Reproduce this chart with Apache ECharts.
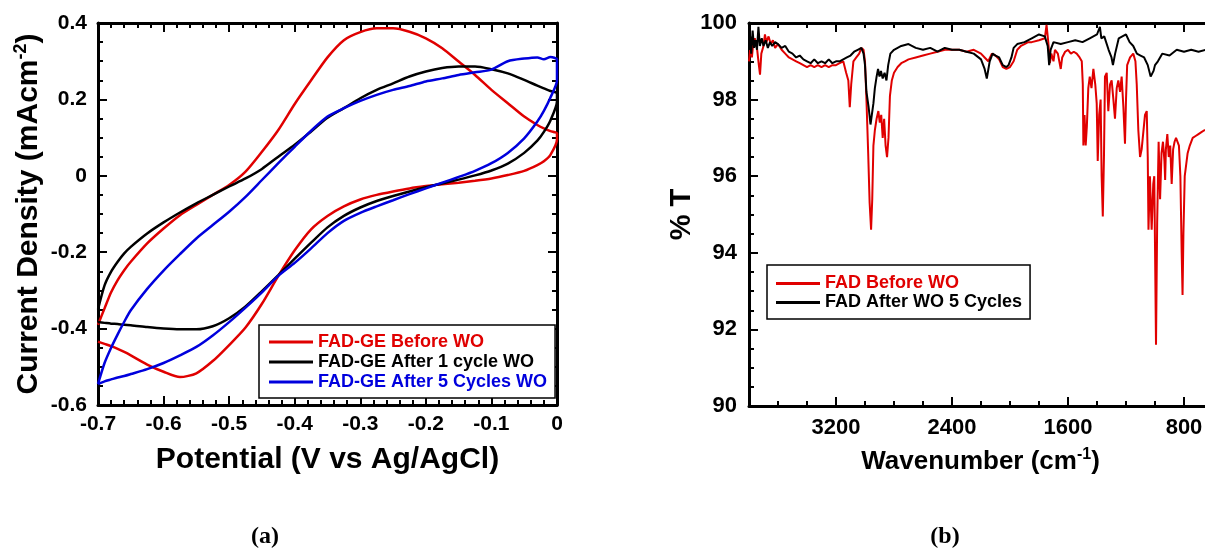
<!DOCTYPE html>
<html><head><meta charset="utf-8">
<script src="https://cdn.jsdelivr.net/npm/echarts@6/dist/echarts.min.js"></script>
<style>html,body{margin:0;padding:0;background:#fff}#c{width:1205px;height:548px}</style>
</head><body><div id="c"></div><script>
// ---------- Panel (a): cyclic voltammograms ----------
const potentials = [-0.7,-0.69,-0.68,-0.67,-0.66,-0.65,-0.625,-0.6,-0.575,-0.55,-0.525,-0.5,-0.475,-0.45,-0.425,-0.4,-0.375,-0.35,-0.325,-0.3,-0.275,-0.25,-0.225,-0.2,-0.175,-0.15,-0.125,-0.1,-0.075,-0.05,-0.03,-0.02,-0.01,0];
const redAnodic = [-0.39,-0.347,-0.305,-0.273,-0.247,-0.225,-0.177,-0.138,-0.103,-0.076,-0.05,-0.024,0.011,0.063,0.12,0.188,0.25,0.31,0.355,0.376,0.386,0.386,0.377,0.36,0.334,0.299,0.264,0.225,0.19,0.155,0.133,0.124,0.117,0.111];
const redCathodic = [-0.434,-0.44,-0.446,-0.453,-0.461,-0.47,-0.494,-0.513,-0.527,-0.517,-0.485,-0.443,-0.397,-0.335,-0.262,-0.195,-0.14,-0.105,-0.08,-0.062,-0.05,-0.041,-0.033,-0.027,-0.022,-0.018,-0.013,-0.007,0.002,0.013,0.028,0.038,0.055,0.095];
const blackAnodic = [-0.35,-0.287,-0.251,-0.225,-0.203,-0.186,-0.151,-0.122,-0.096,-0.072,-0.05,-0.028,-0.007,0.018,0.05,0.081,0.116,0.152,0.177,0.203,0.225,0.242,0.26,0.273,0.282,0.286,0.286,0.279,0.268,0.251,0.236,0.229,0.222,0.216];
const blackCathodic = [-0.383,-0.385,-0.387,-0.388,-0.39,-0.391,-0.396,-0.4,-0.402,-0.402,-0.394,-0.373,-0.342,-0.302,-0.26,-0.217,-0.175,-0.135,-0.105,-0.083,-0.066,-0.053,-0.041,-0.03,-0.02,-0.01,0.001,0.014,0.032,0.06,0.092,0.115,0.145,0.195];
const blueAnodic = [-0.545,-0.49,-0.45,-0.415,-0.382,-0.352,-0.296,-0.248,-0.205,-0.164,-0.129,-0.094,-0.055,-0.011,0.033,0.076,0.118,0.155,0.177,0.196,0.212,0.225,0.235,0.247,0.255,0.264,0.271,0.278,0.3,0.307,0.31,0.305,0.311,0.304];
const blueCathodic = [-0.545,-0.538,-0.533,-0.528,-0.524,-0.519,-0.506,-0.49,-0.47,-0.448,-0.418,-0.383,-0.345,-0.305,-0.262,-0.228,-0.19,-0.15,-0.118,-0.097,-0.08,-0.064,-0.048,-0.033,-0.018,-0.003,0.013,0.033,0.06,0.098,0.142,0.17,0.205,0.25];
const cvNames = ['FAD-GE Before WO','FAD-GE After 1 cycle WO','FAD-GE After 5 Cycles WO'];

// ---------- Panel (b): FTIR spectra ----------
const redWavenumber = [3800,3790,3780,3770,3760,3745,3732,3724,3715,3700,3690,3680,3665,3650,3635,3620,3600,3575,3550,3525,3500,3475,3450,3425,3400,3375,3350,3325,3300,3275,3250,3225,3200,3175,3150,3130,3115,3105,3095,3080,3060,3040,3025,3010,3000,2990,2978,2968,2958,2950,2942,2932,2920,2908,2898,2888,2878,2868,2858,2848,2838,2828,2815,2800,2775,2750,2725,2700,2650,2600,2550,2500,2450,2400,2350,2300,2250,2200,2175,2150,2125,2100,2075,2050,2025,2000,1975,1950,1925,1900,1875,1850,1800,1760,1748,1736,1725,1715,1700,1690,1670,1650,1640,1620,1600,1580,1560,1540,1520,1505,1498,1494,1486,1478,1470,1460,1450,1438,1425,1412,1402,1395,1385,1375,1368,1360,1352,1345,1333,1322,1310,1299,1287,1276,1264,1253,1241,1230,1218,1207,1200,1192,1172,1150,1135,1126,1115,1103,1092,1080,1069,1057,1050,1045,1035,1023,1012,1005,1000,993,985,975,965,955,945,935,930,925,915,905,895,885,875,865,855,845,835,825,816,810,804,795,785,775,760,740,720,700,680,660,640,620,600];
const redT = [99.0,99.4,99.1,99.5,99.6,99.35,98.9,98.65,99.2,99.4,99.7,99.5,99.65,99.45,99.55,99.35,99.45,99.3,99.2,99.1,99.05,99.0,98.95,98.9,98.85,98.9,98.85,98.9,98.85,98.9,98.85,98.9,98.9,98.95,99.0,98.7,98.5,97.8,98.4,99.0,99.1,99.2,99.35,99.3,99.0,98.0,96.6,95.3,94.6,95.4,96.8,97.2,97.5,97.7,97.4,97.6,97.0,97.5,96.8,96.5,97.0,98.1,98.5,98.7,98.85,98.95,99.0,99.05,99.1,99.15,99.2,99.25,99.3,99.3,99.3,99.25,99.3,99.2,99.1,99.0,99.2,99.15,99.05,98.85,98.8,98.85,99.0,99.3,99.4,99.45,99.5,99.5,99.55,99.6,99.95,99.5,98.95,99.2,99.0,99.3,99.2,98.8,99.1,99.25,99.3,99.2,99.25,99.2,99.1,99.0,98.4,96.8,97.6,96.8,97.3,98.3,98.6,98.3,98.8,98.4,97.9,96.4,97.6,98.0,96.0,94.95,96.5,98.6,98.7,97.7,98.4,98.5,98.0,97.5,98.3,98.5,98.2,98.6,97.8,96.85,98.0,98.9,99.1,99.2,99.0,98.4,97.2,96.5,96.7,96.7,97.6,97.7,96.5,94.6,96.0,94.6,95.8,96.0,94.2,91.6,94.8,96.9,95.4,96.6,96.9,96.4,95.9,96.7,97.1,96.5,96.8,95.8,96.7,96.9,97.0,97.0,96.8,96.0,94.0,92.9,94.5,96.0,96.3,96.6,96.8,97.0,97.05,97.1,97.15,97.2,97.2,97.25,97.25];
const blackWavenumber = [3800,3792,3785,3775,3765,3755,3745,3735,3725,3712,3700,3685,3670,3655,3640,3620,3600,3575,3550,3525,3500,3475,3450,3425,3400,3375,3350,3325,3300,3275,3250,3225,3200,3175,3150,3125,3100,3075,3050,3025,3010,3000,2990,2975,2962,2952,2942,2932,2920,2910,2900,2890,2878,2865,2852,2840,2825,2800,2775,2750,2700,2650,2600,2550,2500,2450,2400,2350,2300,2250,2200,2175,2160,2140,2120,2100,2075,2050,2025,2010,1990,1975,1950,1900,1850,1800,1760,1740,1730,1720,1700,1650,1600,1550,1500,1450,1400,1380,1370,1350,1320,1300,1290,1275,1250,1200,1175,1150,1125,1100,1075,1050,1030,1020,1010,1000,980,950,900,850,800,750,700,650,600];
const blackT = [99.3,99.65,99.2,99.8,99.35,99.55,99.3,99.9,99.4,99.6,99.4,99.55,99.35,99.5,99.4,99.5,99.45,99.35,99.4,99.25,99.2,99.1,99.15,99.05,99.0,98.95,99.05,98.95,99.0,98.95,99.05,98.95,99.0,99.0,99.05,99.1,99.15,99.25,99.3,99.35,99.2,98.9,98.2,97.8,97.35,97.3,97.9,98.3,98.6,98.8,98.6,98.75,98.55,98.7,98.5,98.9,99.2,99.3,99.35,99.4,99.45,99.35,99.3,99.35,99.25,99.35,99.3,99.3,99.25,99.2,99.05,98.8,98.55,99.0,99.2,99.15,99.1,98.9,98.85,98.9,99.1,99.35,99.45,99.5,99.6,99.7,99.65,99.4,98.9,99.3,99.5,99.45,99.5,99.55,99.5,99.6,99.7,99.9,99.6,99.65,99.3,99.1,98.9,99.2,99.6,99.7,99.5,99.4,99.2,99.15,99.1,98.9,98.6,98.55,98.75,98.9,99.0,99.2,99.15,99.3,99.25,99.3,99.25,99.3,99.3];
const ftirNames = ['FAD Before WO','FAD After WO 5 Cycles'];

// ---------- styling ----------
const FONT = '"Liberation Sans", Arial, sans-serif';
const RED = '#e00000', BLACK = '#000000', BLUE = '#0000dd';

function loop(an, ca) {
  const fwd = potentials.map((p, i) => [p, an[i]]);
  const rev = potentials.map((p, i) => [p, ca[i]]).reverse();
  return fwd.concat(rev);
}
function pairs(w, t) { return w.map((v, i) => [v, t[i]]); }

function axisBase(o) {
  return Object.assign({
    type: 'value',
    axisLine: { show: true, onZero: false, lineStyle: { color: '#000', width: 3 } },
    axisTick: { show: true, inside: true, length: 9, lineStyle: { color: '#000', width: 2 } },
    minorTick: { show: true, splitNumber: 5, length: 5, lineStyle: { color: '#000', width: 2 } },
    splitLine: { show: false },
    minorSplitLine: { show: false },
    axisLabel: { show: true, color: '#000', fontSize: 21, fontWeight: 'bold', fontFamily: FONT, margin: 9 }
  }, o);
}

const chart = echarts.init(document.getElementById('c'), null, { renderer: 'canvas' });
const option = {
  backgroundColor: '#fff',
  animation: false,
  grid: [
    { left: 98, top: 23, width: 459, height: 382, containLabel: false, outerBoundsMode: 'none' },
    { left: 749, top: 23, width: 551, height: 383, containLabel: false, outerBoundsMode: 'none' }
  ],
  xAxis: [
    axisBase({ gridIndex: 0, position: 'bottom', min: -0.7, max: 0, interval: 0.1,
      name: 'Potential (V vs Ag/AgCl)', nameLocation: 'middle', nameGap: 40,
      nameTextStyle: { fontSize: 30, fontWeight: 'bold', fontFamily: FONT, color: '#000' } }),
    axisBase({ gridIndex: 0, position: 'top', min: -0.7, max: 0, interval: 0.1,
      axisLabel: { show: false } }),
    axisBase({ gridIndex: 1, position: 'bottom', min: 0, max: 3800, interval: 800, inverse: true,
      minorTick: { show: true, splitNumber: 4, length: 5, lineStyle: { color: '#000', width: 2 } },
      axisLabel: { show: true, color: '#000', fontSize: 22, fontWeight: 'bold', fontFamily: FONT, margin: 11,
        formatter: v => (v > 0 && v < 3800 && v % 800 === 0) ? String(v) : '' },
      name: 'Wavenumber (cm{sup|-1})', nameLocation: 'middle', nameGap: 41,
      nameTextStyle: { fontSize: 26, fontWeight: 'bold', fontFamily: FONT, color: '#000', lineHeight: 30,
        padding: [0, 88, 0, 0],
        rich: { sup: { fontSize: 16, fontWeight: 'bold', fontFamily: FONT, color: '#000', verticalAlign: 'top', lineHeight: 16 } } } }),
    axisBase({ gridIndex: 1, position: 'top', min: 0, max: 3800, interval: 800, inverse: true,
      minorTick: { show: true, splitNumber: 4, length: 5, lineStyle: { color: '#000', width: 2 } },
      axisLabel: { show: false } })
  ],
  yAxis: [
    axisBase({ gridIndex: 0, position: 'left', min: -0.6, max: 0.4, interval: 0.2,
      minorTick: { show: true, splitNumber: 4, length: 5, lineStyle: { color: '#000', width: 2 } },
      axisLabel: { show: true, color: '#000', fontSize: 21, fontWeight: 'bold', fontFamily: FONT, margin: 11 },
      name: 'Current Density (mAcm{sup|-2})', nameLocation: 'middle', nameGap: 52, nameRotate: 90,
      nameTextStyle: { fontSize: 30, fontWeight: 'bold', fontFamily: FONT, color: '#000', lineHeight: 34,
        rich: { sup: { fontSize: 18, fontWeight: 'bold', fontFamily: FONT, color: '#000', verticalAlign: 'top', lineHeight: 18 } } } }),
    axisBase({ gridIndex: 0, position: 'right', min: -0.6, max: 0.4, interval: 0.2,
      minorTick: { show: true, splitNumber: 4, length: 5, lineStyle: { color: '#000', width: 2 } },
      axisLabel: { show: false } }),
    axisBase({ gridIndex: 1, position: 'left', min: 90, max: 100, interval: 2,
      minorTick: { show: true, splitNumber: 4, length: 5, lineStyle: { color: '#000', width: 2 } },
      axisLabel: { show: true, color: '#000', fontSize: 22, fontWeight: 'bold', fontFamily: FONT, margin: 12 },
      name: '% T', nameLocation: 'middle', nameGap: 50, nameRotate: 90,
      nameTextStyle: { fontSize: 29, fontWeight: 'bold', fontFamily: FONT, color: '#000' } })
  ],
  legend: [
    { orient: 'vertical', left: 259, top: 325, padding: [7, 8, 6, 10], itemGap: 0,
      itemWidth: 44, itemHeight: 3, icon: 'rect', borderColor: '#000', borderWidth: 1.5, backgroundColor: '#fff',
      textStyle: { fontSize: 18, fontWeight: 'bold', fontFamily: FONT, lineHeight: 20 },
      data: [
        { name: cvNames[0], textStyle: { color: RED } },
        { name: cvNames[1], textStyle: { color: BLACK } },
        { name: cvNames[2], textStyle: { color: BLUE } }
      ] },
    { orient: 'vertical', left: 767, top: 265, padding: [9, 8, 7, 9], itemGap: 0,
      itemWidth: 44, itemHeight: 3, icon: 'rect', borderColor: '#000', borderWidth: 1.5, backgroundColor: '#fff',
      textStyle: { fontSize: 18, fontWeight: 'bold', fontFamily: FONT, lineHeight: 19 },
      data: [
        { name: ftirNames[0], textStyle: { color: RED } },
        { name: ftirNames[1], textStyle: { color: BLACK } }
      ] }
  ],
  graphic: [
    { type: 'text', x: 265, y: 537, style: { text: '(a)', font: 'bold 24px "Liberation Serif", "Times New Roman", serif', fill: '#000', align: 'center', verticalAlign: 'middle' } },
    { type: 'text', x: 945, y: 537, style: { text: '(b)', font: 'bold 24px "Liberation Serif", "Times New Roman", serif', fill: '#000', align: 'center', verticalAlign: 'middle' } }
  ],
  series: [
    { name: cvNames[0], type: 'line', xAxisIndex: 0, yAxisIndex: 0, data: loop(redAnodic, redCathodic),
      showSymbol: false, symbol: 'none', smooth: 0.25, color: RED, lineStyle: { color: RED, width: 2.5 } },
    { name: cvNames[1], type: 'line', xAxisIndex: 0, yAxisIndex: 0, data: loop(blackAnodic, blackCathodic),
      showSymbol: false, symbol: 'none', smooth: 0.25, color: BLACK, lineStyle: { color: BLACK, width: 2.5 } },
    { name: cvNames[2], type: 'line', xAxisIndex: 0, yAxisIndex: 0, data: loop(blueAnodic, blueCathodic),
      showSymbol: false, symbol: 'none', smooth: 0.25, color: BLUE, lineStyle: { color: BLUE, width: 2.5 } },
    { name: ftirNames[0], type: 'line', xAxisIndex: 2, yAxisIndex: 2, data: pairs(redWavenumber, redT),
      showSymbol: false, symbol: 'none', color: RED, lineStyle: { color: RED, width: 2 } },
    { name: ftirNames[1], type: 'line', xAxisIndex: 2, yAxisIndex: 2, data: pairs(blackWavenumber, blackT),
      showSymbol: false, symbol: 'none', color: BLACK, lineStyle: { color: BLACK, width: 2 } }
  ]
};
chart.setOption(option);
</script></body></html>
